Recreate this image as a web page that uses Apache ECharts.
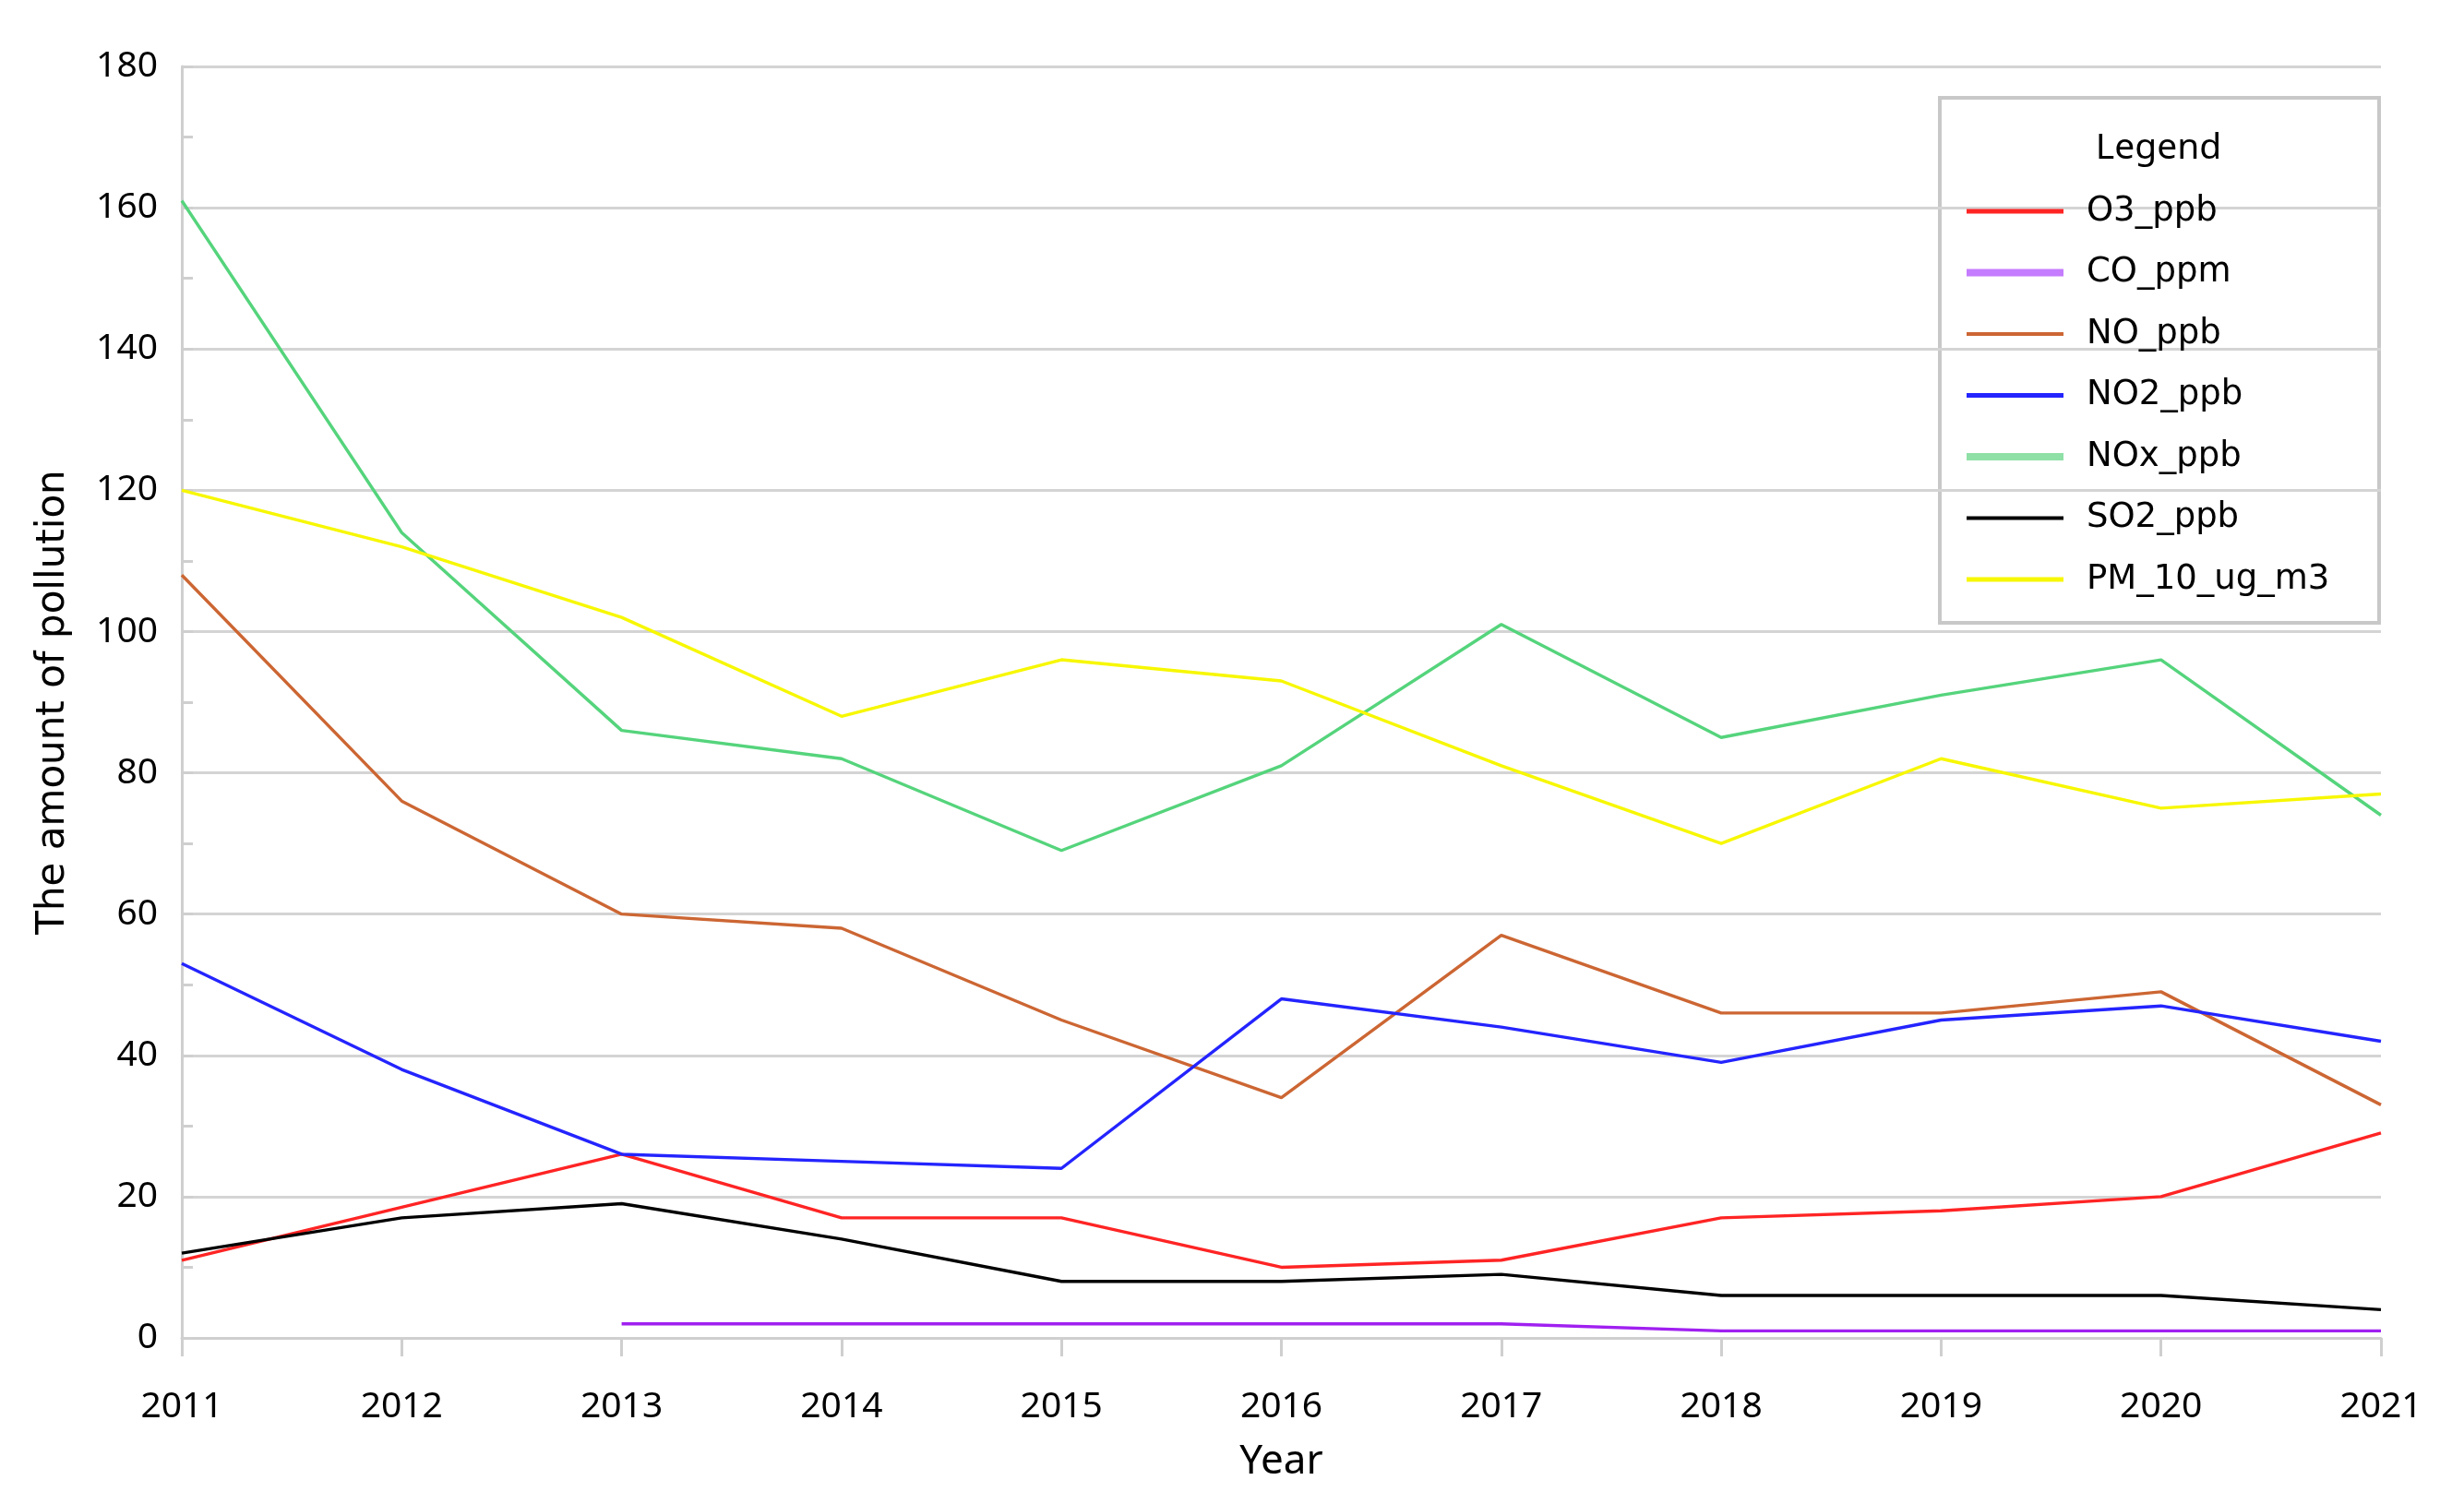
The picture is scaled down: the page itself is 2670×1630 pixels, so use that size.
<!DOCTYPE html>
<html>
<head>
<meta charset="utf-8">
<script src="https://cdn.jsdelivr.net/npm/echarts@6/dist/echarts.min.js"></script>
<style>html,body{margin:0;padding:0;background:#fff;}#c{width:2670px;height:1630px;}</style>
</head>
<body>
<div id="c"></div>
<script>
const years = ['2011','2012','2013','2014','2015','2016','2017','2018','2019','2020','2021'];
const O3_ppb = [11, 18.5, 26, 17, 17, 10, 11, 17, 18, 20, 29];
const CO_ppm = [null, null, 2, 2, 2, 2, 2, 1, 1, 1, 1];
const NO_ppb = [108, 76, 60, 58, 45, 34, 57, 46, 46, 49, 33];
const NO2_ppb = [53, 38, 26, 25, 24, 48, 44, 39, 45, 47, 42];
const NOx_ppb = [161, 114, 86, 82, 69, 81, 101, 85, 91, 96, 74];
const SO2_ppb = [12, 17, 19, 14, 8, 8, 9, 6, 6, 6, 4];
const PM_10_ug_m3 = [120, 112, 102, 88, 96, 93, 81, 70, 82, 75, 77];

const seriesDefs = [
  {name:'O3_ppb', data:O3_ppb, color:'#ff2424', legendW:5},
  {name:'CO_ppm', data:CO_ppm, color:'#a020f0', legendColor:'#c57cff', legendW:8},
  {name:'NO_ppb', data:NO_ppb, color:'#cc6633', legendW:4},
  {name:'NO2_ppb', data:NO2_ppb, color:'#2424ff', legendW:5},
  {name:'NOx_ppb', data:NOx_ppb, color:'#55d47c', legendColor:'#8fe0a6', legendW:8},
  {name:'SO2_ppb', data:SO2_ppb, color:'#000000', legendW:4},
  {name:'PM_10_ug_m3', data:PM_10_ug_m3, color:'#f7f700', legendW:5}
];

const chart = echarts.init(document.getElementById('c'));
chart.setOption({
  animation:false,
  backgroundColor:'#fff',
  grid:{left:197, right:90, top:72, bottom:180},
  title:{text:'Legend', left:2334, textAlign:'center', top:136,
    textStyle:{fontFamily:'Noto Sans', fontSize:39, fontWeight:'normal', color:'#000'}},
  legend:{
    orient:'vertical', left:2126, top:202,
    itemWidth:105, itemHeight:14, itemGap:22.5,
    icon:'rect',
    textStyle:{fontFamily:'DejaVu Sans', fontSize:37, color:'#000', lineHeight:44, padding:[0,0,0,20]},
    data: seriesDefs.map(s=>({name:s.name, icon:'path://M0,' + (7 - s.legendW/2) + 'H105V' + (7 + s.legendW/2) + 'H0Z', itemStyle:{color:s.legendColor||s.color}}))
  },
  graphic:[{type:'rect', left:2100, top:104, shape:{width:476, height:569},
    style:{fill:'#fff', stroke:'#c8c8c8', lineWidth:4}, z:-1, zlevel:0}],
  xAxis:{
    type:'category', data:years, boundaryGap:false,
    name:'Year', nameLocation:'middle', nameGap:112,
    nameTextStyle:{fontFamily:'Noto Sans', fontSize:44, color:'#000'},
    axisLine:{lineStyle:{color:'#cfcfcf', width:3}},
    axisTick:{show:true, length:20, lineStyle:{color:'#cfcfcf', width:3}},
    axisLabel:{fontFamily:'Noto Sans', fontSize:39, color:'#000', margin:55},
    splitLine:{show:false}
  },
  yAxis:{
    type:'value', min:0, max:180, interval:20,
    name:'The amount of pollution', nameLocation:'middle', nameGap:118, nameRotate:90,
    nameTextStyle:{fontFamily:'DejaVu Sans', fontSize:42, color:'#000'},
    axisLine:{show:true, lineStyle:{color:'#cfcfcf', width:3}},
    axisTick:{show:true, inside:true, length:12, lineStyle:{color:'#cfcfcf', width:3}},
    minorTick:{show:true, splitNumber:2, length:12, lineStyle:{color:'#cfcfcf', width:3}},
    axisLabel:{fontFamily:'Noto Sans', fontSize:39, color:'#000', margin:26},
    splitLine:{show:true, lineStyle:{color:'#d4d4d4', width:3}}
  },
  series: seriesDefs.map(s=>({
    name:s.name, type:'line', data:s.data, symbol:'none',
    lineStyle:{color:s.color, width:3.4}, itemStyle:{color:s.color},
    connectNulls:false
  }))
});
</script>
</body>
</html>
